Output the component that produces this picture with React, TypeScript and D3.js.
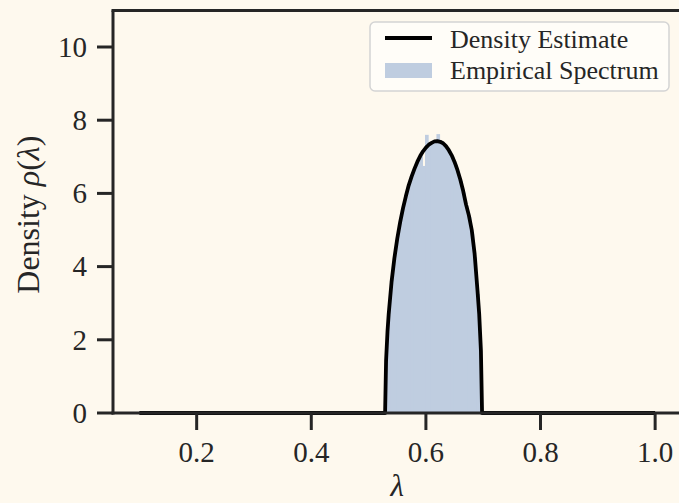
import React from 'react';
import * as d3 from 'd3';

// density estimate curve (lambda, rho)
const curveLambda = [0.1, 0.5288, 0.5305, 0.533, 0.535, 0.54, 0.545, 0.55, 0.555, 0.56, 0.565, 0.57, 0.575, 0.58, 0.585, 0.59, 0.595, 0.6, 0.605, 0.61, 0.615, 0.62, 0.625, 0.63, 0.635, 0.64, 0.645, 0.65, 0.655, 0.66, 0.665, 0.67, 0.675, 0.68, 0.685, 0.69, 0.693, 0.696, 0.698, 1.0];
const curveDensity = [0, 0, 1.43, 2.23, 2.69, 3.57, 4.23, 4.76, 5.21, 5.59, 5.92, 6.22, 6.46, 6.67, 6.86, 7.02, 7.15, 7.25, 7.33, 7.38, 7.42, 7.43, 7.41, 7.37, 7.29, 7.18, 7.04, 6.86, 6.64, 6.38, 6.07, 5.7, 5.4, 5.0, 4.35, 3.35, 2.7, 1.7, 0, 0];

// empirical spectrum histogram
const binStart = 0.5288;
const binWidth = 0.004976;
const binHeights = [1.6, 2.95, 3.75, 4.35, 4.85, 5.3, 5.65, 6.0, 6.27, 6.52, 6.72, 6.9, 7.04, 6.75, 7.6, 7.34, 7.39, 7.42, 7.62, 7.4, 7.36, 7.27, 7.16, 7.01, 6.82, 6.6, 6.34, 6.02, 5.65, 5.35, 4.9, 4.25, 3.25, 1.9];

const xTicks = [0.2, 0.4, 0.6, 0.8, 1.0];
const yTicks = [0, 2, 4, 6, 8, 10];

const W = 679;
const H = 503;
const left = 113, right = 681.5, top = 10.4, bottom = 413;

const BG = '#fef9ee';
const INK = '#262626';
const FILL = '#bfcde0';
const FONT = '"Liberation Serif", "DejaVu Serif", serif';

export default function App() {
  const x = d3.scaleLinear().domain([0.054, 1.046]).range([left, right]);
  const y = d3.scaleLinear().domain([0, 11]).range([bottom, top]);

  const pts: [number, number][] = curveLambda.map((l, i) => [l, curveDensity[i]]);
  const line = d3.line<[number, number]>()
    .x(d => x(d[0]))
    .y(d => y(d[1]));

  const fmtX = d3.format('.1f');

  return (
    <svg width={W} height={H} style={{ position: 'absolute', left: 0, top: 0, background: BG, display: 'block' }}
      fontFamily={FONT}>
      <rect x={0} y={0} width={W} height={H} fill={BG} />

      {/* histogram */}
      {binHeights.map((h, i) => {
        const x0 = x(binStart + i * binWidth);
        const x1 = x(binStart + (i + 1) * binWidth);
        const extra = i < binHeights.length - 1 ? 0.8 : 0;
        return <rect key={i} x={x0} y={y(h)} width={x1 - x0 + extra} height={y(0) - y(h)} fill={FILL} />;
      })}

      {/* density estimate */}
      <path d={line(pts) ?? ''} fill="none" stroke="#000" strokeWidth={3.8} strokeLinejoin="round" />

      {/* spines */}
      <line x1={left} x2={left} y1={top} y2={bottom + 1.5} stroke={INK} strokeWidth={3} />
      <line x1={left - 1.5} x2={right} y1={top} y2={top} stroke={INK} strokeWidth={3} />
      <line x1={left - 1.5} x2={right} y1={bottom} y2={bottom} stroke={INK} strokeWidth={3} />

      {/* x ticks */}
      {xTicks.map(t => (
        <g key={t} transform={`translate(${x(t)},0)`}>
          <line y1={bottom} y2={bottom + 17} stroke={INK} strokeWidth={3} />
          <text y={462} textAnchor="middle" fontSize={29} fill={INK}>{fmtX(t)}</text>
        </g>
      ))}

      {/* y ticks */}
      {yTicks.map(t => (
        <g key={t} transform={`translate(0,${y(t)})`}>
          <line x1={left - 16} x2={left} stroke={INK} strokeWidth={3} />
          <text x={87} dy="0.34em" textAnchor="end" fontSize={29} fill={INK}>{t}</text>
        </g>
      ))}

      {/* axis labels */}
      <text x={(left + 681.5) / 2} y={496} textAnchor="middle" fontSize={31} fill={INK} fontStyle="italic">λ</text>
      <text transform={`translate(39,${(top + bottom) / 2 + 3}) rotate(-90)`} textAnchor="middle" fontSize={32} fill={INK}>
        Density <tspan fontStyle="italic">ρ</tspan>(<tspan fontStyle="italic">λ</tspan>)
      </text>

      {/* legend */}
      <g>
        <rect x={370} y={22} width={299} height={69} rx={5} fill="#fffdf8" fillOpacity={0.9} stroke="#d4d4d4" strokeWidth={1.5} />
        <line x1={385} x2={432} y1={38} y2={38} stroke="#000" strokeWidth={4} />
        <text x={450} y={48} fontSize={26} fill={INK}>Density Estimate</text>
        <rect x={385} y={63} width={47} height={15} fill={FILL} />
        <text x={450} y={79} fontSize={26} fill={INK}>Empirical Spectrum</text>
      </g>
    </svg>
  );
}
